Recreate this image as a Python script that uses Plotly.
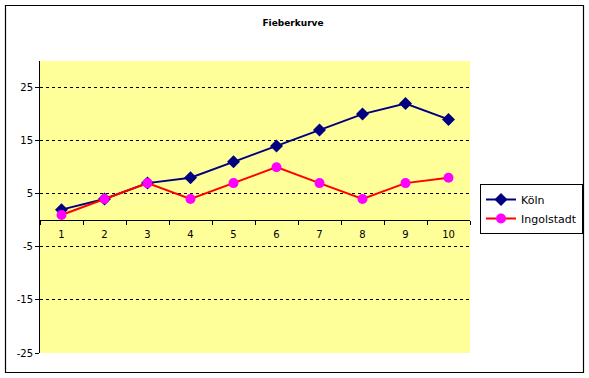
import plotly.graph_objects as go

categories = ["1", "2", "3", "4", "5", "6", "7", "8", "9", "10"]
koeln = [2, 4, 7, 8, 11, 14, 17, 20, 22, 19]
ingolstadt = [1, 4, 7, 4, 7, 10, 7, 4, 7, 8]
y_ticks = [-25, -15, -5, 5, 15, 25]

W, H = 589, 378
L, R, T, B = 40, 470, 61, 353  # plot area in pixels
ymin, ymax = -25, 30

fig = go.Figure()
fig.add_trace(go.Scatter(
    x=categories, y=koeln, name="Köln", mode="lines+markers",
    line=dict(color="#000080", width=2),
    marker=dict(symbol="diamond", size=10, color="#000080"),
))
fig.add_trace(go.Scatter(
    x=categories, y=ingolstadt, name="Ingolstadt", mode="lines+markers",
    line=dict(color="#FF0000", width=2),
    marker=dict(symbol="circle", size=10, color="#FF00FF"),
))

pw, ph = R - L, B - T
def px_x(p):
    return (p - L) / pw
def px_y(p):
    return (B - p) / ph

fig.add_shape(type="rect", xref="paper", yref="paper",
              x0=px_x(5.5), x1=px_x(583.5), y0=px_y(372.5), y1=px_y(5.5),
              line=dict(color="black", width=1.2), layer="below")

fig.update_layout(
    width=W, height=H, autosize=False,
    margin=dict(l=L, r=W - R, t=T, b=H - B, autoexpand=False),
    paper_bgcolor="white", plot_bgcolor="#FFFF99",
    font=dict(family="DejaVu Sans", size=10, color="black"),
    title=dict(text="<b>Fieberkurve</b>", x=293 / W, xanchor="center",
               y=1 - 22.5 / H, yanchor="middle",
               font=dict(size=9, family="DejaVu Sans")),
    showlegend=True,
    legend=dict(x=px_x(480), xanchor="left", y=px_y(184), yanchor="top",
                bordercolor="black", borderwidth=1, bgcolor="white",
                font=dict(size=11, family="DejaVu Sans")),
    xaxis=dict(type="category", range=[-0.5, 9.5], anchor="free",
               position=(0 - ymin) / (ymax - ymin),
               showline=True, linecolor="black", linewidth=1,
               ticks="outside", tickson="boundaries", ticklen=4, tickcolor="black",
               ticklabelstandoff=5,
               showgrid=False, zeroline=False, tickfont=dict(size=10)),
    yaxis=dict(range=[ymin, ymax], tickvals=y_ticks, ticktext=[str(v) for v in y_ticks],
               showline=True, linecolor="black", linewidth=1,
               ticks="outside", ticklen=4, tickcolor="black",
               showgrid=True, gridcolor="black", gridwidth=1, griddash="3px,3px",
               zeroline=False, tickfont=dict(size=10)),
)

fig.write_html("out.html",
               config={"displayModeBar": False, "responsive": False},
               post_script="document.body.style.margin='0';document.body.style.padding='0';"
                           "document.body.style.overflow='hidden';")
